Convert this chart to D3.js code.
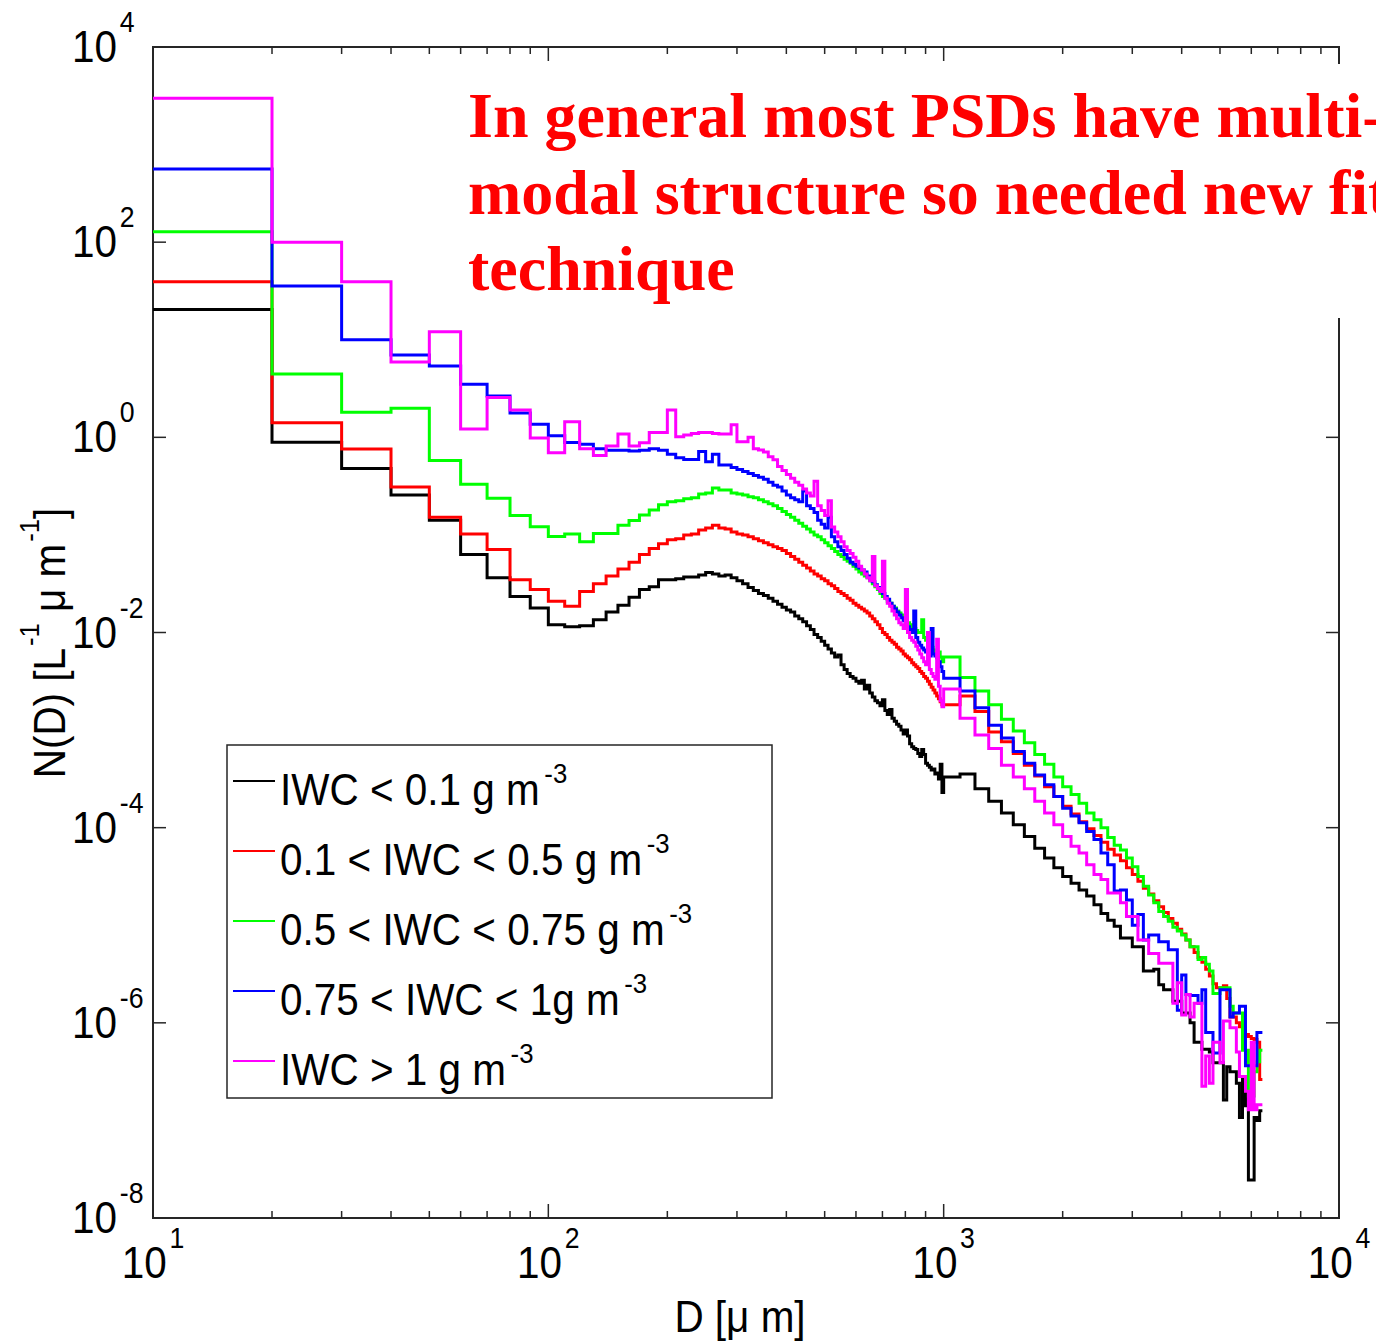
<!DOCTYPE html>
<html>
<head>
<meta charset="utf-8">
<script src="https://cdn.jsdelivr.net/npm/d3@7"></script>
<style>
  body { margin: 0; background: #ffffff; }
  svg { display: block; }
</style>
</head>
<body>
<svg id="chart" width="1376" height="1343"></svg>
<script>
// ---------------- DATA ----------------
// Bin edges of the size distribution [µm]: 10 µm bins up to 1000 µm, 100 µm bins up to 6400 µm
const binEdges = d3.range(10, 1000, 10).concat(d3.range(1000, 6500, 100));

const seriesLabels = [
  "IWC < 0.1 g m",
  "0.1 < IWC < 0.5 g m",
  "0.5 < IWC < 0.75 g m",
  "0.75 < IWC < 1g m",
  "IWC > 1 g m"
];
const seriesColors = ["#000000", "#ff0000", "#00ff00", "#0000ff", "#ff00ff"];

// log10 of N(D) [L^-1 µm^-1] per bin
const log10N_iwcBelow01 = [
  1.31, -0.05, -0.32, -0.59, -0.85, -1.20, -1.44, -1.63, -1.75,
  -1.92, -1.94, -1.93, -1.87, -1.79, -1.72, -1.64, -1.56, -1.53, -1.46,
  -1.46, -1.45, -1.43, -1.43, -1.41, -1.385, -1.40, -1.42, -1.41, -1.44,
  -1.47, -1.50, -1.54, -1.57, -1.60, -1.62, -1.65, -1.68, -1.71, -1.74,
  -1.77, -1.79, -1.83, -1.86, -1.89, -1.93, -1.97, -2.02, -2.05, -2.09,
  -2.13, -2.17, -2.21, -2.25, -2.23, -2.33, -2.38, -2.42, -2.45, -2.47,
  -2.50, -2.52, -2.49, -2.58, -2.54, -2.62, -2.66, -2.70, -2.72, -2.75,
  -2.69, -2.80, -2.84, -2.79, -2.88, -2.91, -2.94, -2.96, -3.00, -3.04,
  -3.00, -3.06, -3.14, -3.17, -3.19, -3.20, -3.24, -3.27, -3.20, -3.25,
  -3.34, -3.36, -3.38, -3.41, -3.40, -3.45, -3.44, -3.50, -3.35, -3.64,
  -3.48, -3.45, -3.60, -3.73, -3.85, -3.97, -4.09, -4.21, -4.31, -4.41,
  -4.50, -4.57, -4.64, -4.70, -4.79, -4.88, -4.95, -5.01, -5.13, -5.13,
  -5.22, -5.22, -5.47, -5.47, -5.45, -5.61, -5.66, -5.66, -5.78, -5.78,
  -5.90, -5.90, -6.00, -6.20, -6.20, -6.27, -6.27, -6.30, -6.41, -6.41,
  -6.41, -6.79, -6.45, -6.50, -6.50, -6.62, -6.97, -6.55, -6.85, -7.61,
  -7.61, -6.97, -7.00, -6.90
];
const log10N_iwc01to05 = [
  1.595, 0.15, -0.12, -0.51, -0.82, -0.99, -1.15, -1.46, -1.56,
  -1.68, -1.73, -1.58, -1.50, -1.42, -1.35, -1.28, -1.20, -1.14, -1.09,
  -1.05, -1.04, -1.00, -0.99, -0.95, -0.93, -0.90, -0.93, -0.94, -0.97,
  -0.99, -1.00, -1.02, -1.04, -1.06, -1.08, -1.10, -1.12, -1.14, -1.16,
  -1.19, -1.22, -1.25, -1.28, -1.31, -1.34, -1.37, -1.40, -1.42, -1.45,
  -1.47, -1.50, -1.52, -1.55, -1.58, -1.60, -1.62, -1.65, -1.67, -1.70,
  -1.72, -1.74, -1.76, -1.78, -1.80, -1.83, -1.86, -1.89, -1.92, -1.96,
  -2.00, -2.02, -2.05, -2.08, -2.10, -2.12, -2.15, -2.17, -2.19, -2.22,
  -2.24, -2.26, -2.28, -2.31, -2.33, -2.35, -2.37, -2.40, -2.42, -2.45,
  -2.47, -2.50, -2.53, -2.56, -2.59, -2.62, -2.65, -2.68, -2.71, -2.74,
  -2.74, -2.65, -2.81, -3.02, -3.12, -3.24, -3.36, -3.47, -3.58, -3.68,
  -3.78, -3.86, -3.94, -4.01, -4.08, -4.15, -4.22, -4.28, -4.34, -4.41,
  -4.48, -4.55, -4.62, -4.68, -4.75, -4.81, -4.87, -4.93, -4.98, -5.04,
  -5.09, -5.15, -5.22, -5.28, -5.33, -5.38, -5.45, -5.52, -5.60, -5.64,
  -5.64, -5.62, -5.75, -5.94, -5.94, -6.00, -6.04, -6.06, -6.12, -6.14,
  -6.16, -6.17, -6.20, -6.58
];
const log10N_iwc05to075 = [
  2.108, 0.65, 0.257, 0.298, -0.238, -0.48, -0.624, -0.80, -0.917,
  -1.017, -0.99, -1.07, -0.985, -0.985, -0.90, -0.853, -0.795, -0.744, -0.69,
  -0.66, -0.65, -0.63, -0.62, -0.58, -0.57, -0.52, -0.54, -0.54, -0.57,
  -0.58, -0.59, -0.61, -0.62, -0.64, -0.66, -0.68, -0.70, -0.73, -0.76,
  -0.79, -0.82, -0.85, -0.88, -0.91, -0.94, -0.97, -1.00, -1.02, -1.05,
  -1.08, -1.11, -1.14, -1.17, -1.20, -1.22, -1.25, -1.27, -1.29, -1.32,
  -1.35, -1.38, -1.40, -1.42, -1.44, -1.47, -1.50, -1.53, -1.56, -1.60,
  -1.63, -1.65, -1.68, -1.70, -1.73, -1.75, -1.78, -1.80, -1.82, -1.85,
  -1.87, -1.90, -1.92, -1.94, -1.96, -1.98, -2.00, -2.00, -1.87, -2.05,
  -2.08, -2.10, -2.12, -2.15, -2.18, -2.20, -2.22, -2.20, -2.25, -2.30,
  -2.25, -2.46, -2.60, -2.74, -2.89, -3.01, -3.13, -3.25, -3.35, -3.48,
  -3.58, -3.66, -3.75, -3.85, -3.92, -4.00, -4.10, -4.18, -4.23, -4.31,
  -4.40, -4.50, -4.60, -4.69, -4.77, -4.86, -4.91, -4.96, -5.02, -5.06,
  -5.10, -5.15, -5.22, -5.22, -5.35, -5.33, -5.40, -5.47, -5.70, -5.70,
  -5.64, -5.64, -5.64, -5.83, -5.90, -5.90, -5.90, -6.28, -6.28, -6.75,
  -6.75, -6.50, -6.40, -6.28
];
const log10N_iwc075to1 = [
  2.75, 1.551, 1.00, 0.844, 0.73, 0.544, 0.424, 0.25, 0.135,
  0.015, -0.054, -0.07, -0.116, -0.133, -0.133, -0.14, -0.133, -0.116, -0.133,
  -0.174, -0.21, -0.226, -0.226, -0.146, -0.25, -0.174, -0.283, -0.283, -0.31,
  -0.33, -0.35, -0.37, -0.39, -0.41, -0.43, -0.46, -0.49, -0.51, -0.55,
  -0.59, -0.62, -0.64, -0.66, -0.55, -0.70, -0.73, -0.77, -0.85, -0.89,
  -0.93, -0.82, -1.02, -1.07, -1.12, -1.16, -1.20, -1.24, -1.28, -1.30,
  -1.32, -1.34, -1.36, -1.38, -1.42, -1.45, -1.48, -1.51, -1.54, -1.57,
  -1.60, -1.63, -1.66, -1.70, -1.73, -1.76, -1.79, -1.82, -1.85, -1.88,
  -1.91, -1.94, -1.97, -2.00, -1.78, -2.05, -2.10, -2.13, -2.16, -2.18,
  -2.20, -2.22, -2.24, -1.96, -2.22, -2.24, -2.26, -2.30, -2.35, -2.40,
  -2.47, -2.60, -2.77, -2.95, -3.08, -3.22, -3.34, -3.46, -3.56, -3.68,
  -3.80, -3.88, -3.95, -4.04, -4.12, -4.26, -4.38, -4.65, -4.64, -4.74,
  -5.00, -4.89, -5.15, -5.10, -5.10, -5.17, -5.17, -5.25, -5.25, -5.87,
  -5.51, -5.71, -5.72, -5.72, -5.80, -5.66, -6.10, -6.10, -6.31, -6.31,
  -5.66, -5.66, -5.66, -5.94, -5.90, -5.90, -5.83, -5.83, -6.44, -6.44,
  -6.44, -6.44, -6.10, -6.10
];
const log10N_iwcAbove1 = [
  3.474, 2.0, 1.595, 0.773, 1.083, 0.086, 0.407, 0.28, -0.006,
  -0.157, 0.16, -0.116, -0.185, -0.09, 0.035, -0.09, -0.055, 0.05, 0.05,
  0.28, 0.007, 0.025, 0.04, 0.05, 0.05, 0.04, 0.035, 0.035, 0.13,
  -0.045, -0.045, 0.0, -0.116, -0.13, -0.15, -0.20, -0.23, -0.30, -0.34,
  -0.38, -0.42, -0.46, -0.49, -0.53, -0.57, -0.60, -0.45, -0.70, -0.75,
  -0.80, -0.65, -0.92, -0.97, -1.02, -1.07, -1.12, -1.16, -1.19, -1.23,
  -1.27, -1.32, -1.36, -1.40, -1.44, -1.47, -1.22, -1.52, -1.55, -1.58,
  -1.27, -1.65, -1.70, -1.73, -1.78, -1.82, -1.86, -1.90, -1.92, -1.96,
  -1.56, -2.00, -2.05, -2.08, -2.10, -2.14, -2.18, -2.22, -2.26, -2.30,
  -2.33, -2.00, -2.38, -2.42, -2.45, -2.48, -2.07, -2.55, -2.70, -2.76,
  -2.58, -2.88, -3.05, -3.19, -3.36, -3.48, -3.60, -3.73, -3.85, -3.97,
  -4.09, -4.19, -4.26, -4.38, -4.48, -4.53, -4.67, -4.67, -4.77, -4.91,
  -4.91, -5.15, -5.15, -5.29, -5.29, -5.39, -5.39, -5.39, -5.80, -5.59,
  -5.92, -5.71, -5.94, -5.80, -5.80, -6.65, -6.34, -6.62, -6.20, -6.20,
  -6.41, -5.98, -5.98, -6.05, -6.05, -6.30, -6.55, -6.55, -6.70, -6.89,
  -6.20, -6.89, -6.84, -6.84
];
const seriesValues = [log10N_iwcBelow01, log10N_iwc01to05, log10N_iwc05to075, log10N_iwc075to1, log10N_iwcAbove1];

const xTickExponents = [1, 2, 3, 4];
const yTickExponents = [4, 2, 0, -2, -4, -6, -8];
const legendUnitExponent = "-3";
const xAxisTitle = "D [\u03bc m]";
const annotationLines = [
  "In general most PSDs have multi-",
  "modal structure so needed new fit",
  "technique"
];

// ---------------- LAYOUT ----------------
const W = 1376, H = 1343;
const plot = { left: 153, right: 1339, top: 47, bottom: 1218 };
const FONT = "'Liberation Sans', Arial, Helvetica, sans-serif";
const SX = 0.92; // slight horizontal condensation (Helvetica-like look)
const AXIS_COLOR = "#262626";

const svg = d3.select("#chart");
svg.append("rect").attr("width", W).attr("height", H).attr("fill", "#fff");

const x = d3.scaleLog().domain([10, 1e4]).range([plot.left, plot.right]);
const y = d3.scaleLog().domain([1e-8, 1e4]).range([plot.bottom, plot.top]);

// text with superscripts: parts = [[string, isSup], ...]
function richText(parent, tx, ty, parts, o) {
  const g = parent.append("g")
    .attr("transform", `translate(${tx},${ty})` + (o.rotate ? ` rotate(${o.rotate})` : "") + ` scale(${SX},1)`);
  const t = g.append("text")
    .attr("font-family", FONT)
    .attr("font-size", o.size)
    .attr("fill", "#000")
    .attr("text-anchor", o.anchor || "start");
  let raised = false;
  parts.forEach(([str, sup]) => {
    const ts = t.append("tspan").text(str);
    if (sup && !raised) { ts.attr("font-size", o.supSize).attr("dy", -o.rise).attr("dx", o.gap || 3); raised = true; }
    else if (!sup && raised) { ts.attr("dy", o.rise); raised = false; }
  });
  return g;
}

// ---------------- AXES FRAME & TICKS ----------------
const axes = svg.append("g");
const frame = axes.append("g").attr("stroke", AXIS_COLOR).attr("stroke-width", 2).attr("fill", "none");
frame.append("rect")
  .attr("x", plot.left).attr("y", plot.top)
  .attr("width", plot.right - plot.left).attr("height", plot.bottom - plot.top);

// x ticks (major at decades, minor in between), both bottom and top, pointing inward
x.ticks().forEach(v => {
  const major = Math.abs(Math.log10(v) - Math.round(Math.log10(v))) < 1e-9;
  const len = major ? 14 : 7;
  const px = x(v);
  frame.append("line").attr("x1", px).attr("x2", px).attr("y1", plot.bottom).attr("y2", plot.bottom - len).attr("stroke-width", 1.5);
  frame.append("line").attr("x1", px).attr("x2", px).attr("y1", plot.top).attr("y2", plot.top + len).attr("stroke-width", 1.5);
});
// y ticks at labelled decades, both sides
yTickExponents.forEach(e => {
  const py = y(Math.pow(10, e));
  frame.append("line").attr("x1", plot.left).attr("x2", plot.left + 13).attr("y1", py).attr("y2", py).attr("stroke-width", 1.5);
  frame.append("line").attr("x1", plot.right).attr("x2", plot.right - 13).attr("y1", py).attr("y2", py).attr("stroke-width", 1.5);
});

// tick labels
xTickExponents.forEach(e => {
  richText(axes, x(Math.pow(10, e)), plot.bottom + 60, [["10", false], [String(e), true]],
    { size: 44, supSize: 29, rise: 30, gap: 3, anchor: "middle" });
});
yTickExponents.forEach(e => {
  richText(axes, 72, y(Math.pow(10, e)) + 15, [["10", false], [String(e), true]],
    { size: 44, supSize: 29, rise: 30, gap: 3, anchor: "start" });
});

// axis titles
richText(axes, (plot.left + plot.right) / 2 - 6, 1332, [[xAxisTitle, false]], { size: 44, anchor: "middle" });
richText(axes, 65, 643, [["N(D) [L", false], ["-1", true], [" \u03bc m", false], ["-1", true], ["]", false]],
  { size: 44, supSize: 28, rise: 26, gap: 2, anchor: "middle", rotate: -90 });

// ---------------- DATA LINES (stairs) ----------------
const stepLine = d3.line().x(d => x(d[0])).y(d => y(d[1]));
const linesG = svg.append("g");
seriesValues.forEach((vals, si) => {
  const pts = [];
  vals.forEach((lv, i) => {
    const n = Math.pow(10, lv);
    pts.push([binEdges[i], n], [binEdges[i + 1], n]);
  });
  linesG.append("path")
    .attr("d", stepLine(pts))
    .attr("fill", "none")
    .attr("stroke", seriesColors[si])
    .attr("stroke-width", 3)
    .attr("stroke-linejoin", "miter");
});

// ---------------- LEGEND ----------------
const legend = svg.append("g");
legend.append("rect")
  .attr("x", 227).attr("y", 745).attr("width", 545).attr("height", 353)
  .attr("fill", "#fff").attr("stroke", AXIS_COLOR).attr("stroke-width", 1.5);
seriesLabels.forEach((lab, i) => {
  const ly = 781 + i * 70;
  legend.append("line").attr("x1", 233).attr("x2", 275).attr("y1", ly).attr("y2", ly)
    .attr("stroke", seriesColors[i]).attr("stroke-width", 2);
  richText(legend, 280, ly + 24, [[lab, false], [legendUnitExponent, true]],
    { size: 44, supSize: 28, rise: 22, gap: 5, anchor: "start" });
});

// ---------------- ANNOTATION ----------------
svg.append("rect").attr("x", 455).attr("y", 64).attr("width", W - 455).attr("height", 254).attr("fill", "#fff");
const ann = svg.append("text")
  .attr("font-family", "'Liberation Serif', 'Times New Roman', Times, serif")
  .attr("font-weight", "bold")
  .attr("font-size", 64)
  .attr("fill", "#ff0000");
annotationLines.forEach((s, i) => {
  ann.append("tspan").attr("x", 468).attr("y", 137 + i * 76.5).text(s);
});
</script>
</body>
</html>
